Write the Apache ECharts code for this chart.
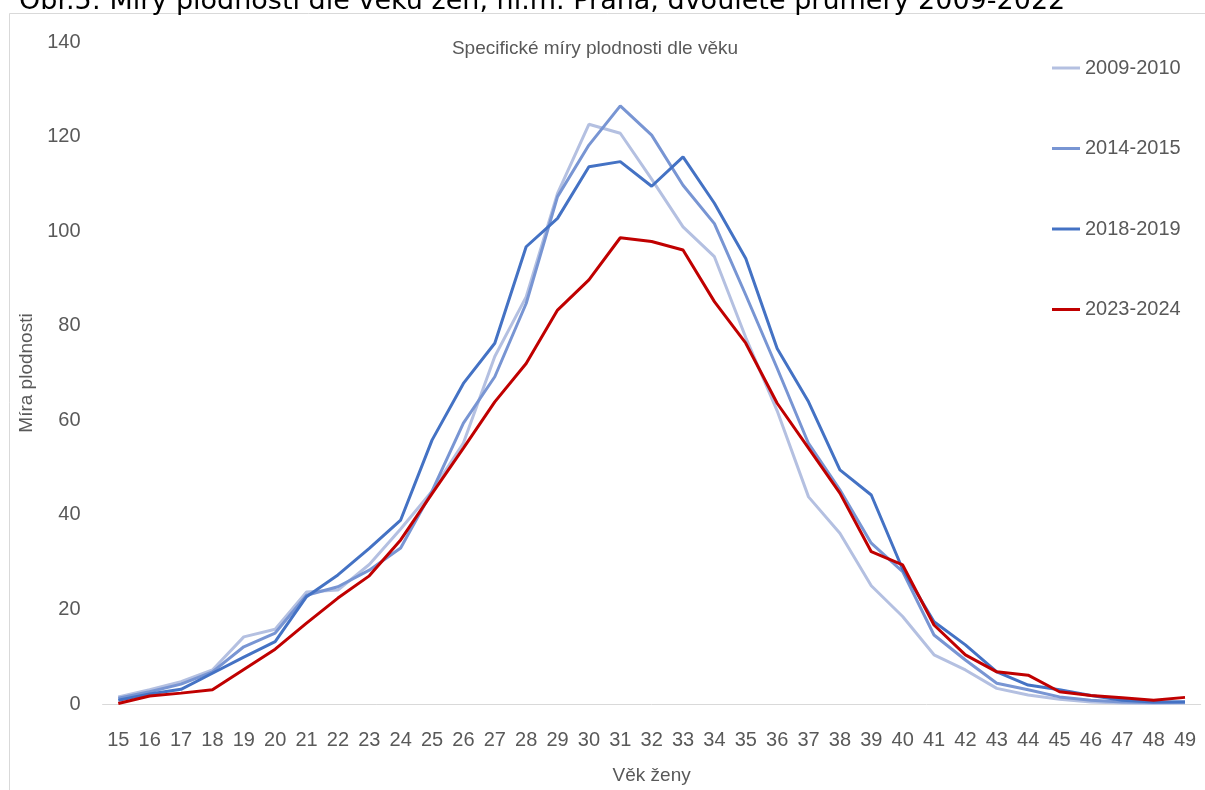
<!DOCTYPE html>
<html>
<head>
<meta charset="utf-8">
<script src="https://cdn.jsdelivr.net/npm/echarts@6/dist/echarts.min.js"></script>
<style>
html,body{margin:0;padding:0;background:#fff;}
#c{width:1205px;height:790px;}
</style>
</head>
<body>
<div id="c"></div>
<script>
var ages = ['15','16','17','18','19','20','21','22','23','24','25','26','27','28','29','30','31','32','33','34','35','36','37','38','39','40','41','42','43','44','45','46','47','48','49'];
var yTicks = [0, 20, 40, 60, 80, 100, 120, 140];
var s2009 = [1.5,3,4.7,7.2,14.2,15.8,23.7,24.1,29.5,37,45,55.2,73.5,86.1,108,122.6,120.7,111,100.9,94.6,77.5,62,43.8,36.1,25,18.5,10.4,7.2,3.3,1.9,1.0,0.4,0.2,0.1,0.2];
var s2014 = [1.2,2.6,4.2,6.8,12.1,15,23,24.8,28.3,33,45,59.4,69.2,84.7,107.3,118.2,126.5,120.3,109.7,101.6,86.5,71,55.1,45.3,34,28,14.6,9.3,4.4,3.0,1.5,0.8,0.4,0.3,0.3];
var s2018 = [0.8,2.1,3.1,6.5,9.9,13.2,22.7,27.3,32.9,38.9,55.8,67.8,76.3,96.7,102.7,113.6,114.7,109.5,115.7,105.9,94.2,75.2,63.9,49.5,44.2,28.5,17.4,12.5,6.8,4.0,3.0,1.8,0.8,0.4,0.5];
var s2023 = [0.1,1.7,2.3,3.0,7.3,11.6,17.1,22.4,27.1,34.7,44.5,54.1,63.9,72,83.3,89.7,98.6,97.8,96,85.1,76.3,63.6,54.1,44.6,32.2,29.4,16.7,10.4,6.8,6.1,2.6,1.8,1.3,0.8,1.4];
var seriesNames = ['2009-2010','2014-2015','2018-2019','2023-2024'];
var colors = ['#b4c0e1','#7895d3','#4472c4','#c00000'];
var seriesData = [s2009, s2014, s2018, s2023];

var chart = echarts.init(document.getElementById('c'));
var FONT = 'Liberation Sans';
var series = seriesNames.map(function(n, i){
  return {
    name: n, type: 'line', data: seriesData[i],
    symbol: 'none', smooth: false,
    lineStyle: {width: 3, color: colors[i]},
    itemStyle: {color: colors[i]},
    z: 2 + i
  };
});
chart.setOption({
  animation: false,
  backgroundColor: '#fff',
  color: colors,
  graphic: [
    {type: 'rect', shape: {x: 9.5, y: 13.5, width: 1400, height: 1000}, style: {fill: 'none', stroke: '#d9d9d9', lineWidth: 1}, z: -1},
    {type: 'text', left: 19, top: -12, style: {text: 'Obr.5: Míry plodnosti dle věku žen, hl.m. Praha, dvouleté průměry 2009-2022', fontFamily: 'DejaVu Sans', fontSize: 27, fill: '#000'}}
  ],
  title: {
    text: 'Specifické míry plodnosti dle věku',
    left: 590, top: 34, textAlign: 'center',
    textStyle: {fontFamily: FONT, fontSize: 19, fontWeight: 'normal', color: '#595959'}
  },
  legend: {
    orient: 'vertical', left: 1047, top: 53,
    icon: 'rect', itemWidth: 28, itemHeight: 3, itemGap: 60.5,
    data: seriesNames,
    textStyle: {fontFamily: FONT, fontSize: 20, color: '#595959', lineHeight: 20}
  },
  grid: {left: 102.6, right: 4.3, top: 42, bottom: 86, containLabel: false},
  xAxis: {
    type: 'category', data: ages, boundaryGap: true,
    name: 'Věk ženy', nameLocation: 'middle', nameGap: 62,
    nameTextStyle: {fontFamily: FONT, fontSize: 19, color: '#595959'},
    axisLine: {show: true, lineStyle: {color: '#d9d9d9', width: 1}},
    axisTick: {show: false},
    axisLabel: {interval: 0, fontFamily: FONT, fontSize: 20, color: '#595959', margin: 26}
  },
  yAxis: {
    type: 'value', min: yTicks[0], max: yTicks[yTicks.length-1], interval: 20,
    name: 'Míra plodnosti', nameLocation: 'middle', nameGap: 62, nameRotate: 90,
    nameTextStyle: {fontFamily: FONT, fontSize: 19, color: '#595959'},
    axisLine: {show: false}, axisTick: {show: false},
    splitLine: {show: false},
    axisLabel: {fontFamily: FONT, fontSize: 20, color: '#595959', margin: 22}
  },
  series: series
});
</script>
</body>
</html>
